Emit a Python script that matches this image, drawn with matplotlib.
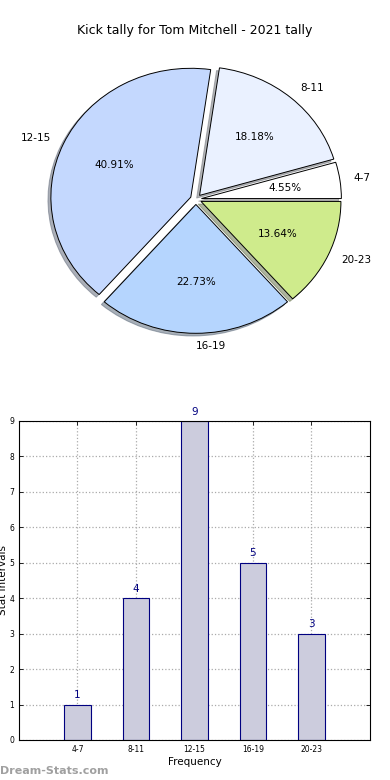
import matplotlib
matplotlib.use("Agg")
import matplotlib.pyplot as plt
import numpy as np

# data
intervals = ['4-7', '8-11', '12-15', '16-19', '20-23']
counts = [1, 4, 9, 5, 3]
pie_colors = ['#ffffff', '#eaf1ff', '#c4d8fe', '#b5d5fe', '#cfeb8c']
title = 'Kick tally for Tom Mitchell - 2021 tally'

fig = plt.figure(figsize=(3.9, 7.8), dpi=100)

# pie on top (old-style, not forced to equal aspect)
ax1 = fig.add_axes([0.0538, 0.538, 0.897, 0.413])
wedges, texts, autotexts = ax1.pie(
    counts, labels=intervals, colors=pie_colors, autopct='%1.2f%%',
    startangle=0, explode=[0.04] * len(counts),
    shadow={'ox': -0.015, 'oy': -0.015, 'shade': 0.55},
    wedgeprops={'edgecolor': 'black', 'linewidth': 0.7},
    textprops={'fontsize': 7.5})
ax1.set_aspect('auto')
ax1.set_xlim(-1.25, 1.25)
ax1.set_ylim(-1.25, 1.25)
fig.text(0.5, 0.961, title, ha='center', va='center', fontsize=9)

# bars below
ax2 = fig.add_axes([0.0487, 0.0513, 0.9, 0.409])
x = np.arange(len(intervals))
bars = ax2.bar(x, counts, width=0.45, color='#ccccdd', edgecolor='#000080',
               linewidth=0.8, zorder=2)
for xi, c in zip(x, counts):
    ax2.text(xi, c + 0.12, str(c), ha='center', va='bottom',
             color='#000080', fontsize=7.5)
ax2.set_xlim(-1, 5)
ax2.set_ylim(0, 9)
ax2.set_xticks(x)
ax2.set_xticklabels(intervals)
ax2.set_yticks(range(0, 10))
ax2.tick_params(direction='in', top=True, right=True, labelsize=5.5,
                length=3, width=0.6)
ax2.grid(True, linestyle=':', color='#aaaaaa', linewidth=0.9, zorder=0)
ax2.set_xlabel('Frequency', fontsize=7.5, labelpad=2)
ax2.set_ylabel('Stat Intervals', fontsize=7.5, labelpad=1)
for s in ax2.spines.values():
    s.set_linewidth(0.8)

fig.text(0.0, 0.012, 'Dream-Stats.com', color='#a0a0a0', fontsize=8,
         fontweight='bold', ha='left', va='center')

fig.savefig('out.png', dpi=100)
